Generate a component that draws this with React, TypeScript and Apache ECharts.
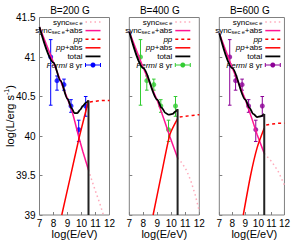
import { useEffect, useRef } from 'react';
import * as echarts from 'echarts';

const titles = ['B=200 G', 'B=400 G', 'B=600 G'];

const fermiE = [7.8, 8.25, 8.75, 9.25, 9.8, 10.3];
const fermiL = [41.0, 40.7, 40.65, 40.38, 40.08, 40.38];
const fermiLo = [40.39, 40.58, 40.58, 40.3, 39.93, 40.25];
const fermiHi = [41.22, 40.76, 40.72, 40.46, 40.2, 40.5];
const fermiColors = ['#0000ff', '#33cc33', '#8c0096'];

const syncSec200 = [[10.5, 39.57], [10.7, 39.46], [11, 39.3], [11.3, 39.15], [11.6, 38.98]];
const syncAbs200 = [[7, 41.38], [8, 40.93], [8.5, 40.7], [9, 40.47], [9.3, 40.33], [9.5, 40.2], [9.8, 39.99], [10.1, 39.8], [10.5, 39.57]];
const pp200 = [[10.6, 40.43], [11, 40.44], [11.5, 40.45], [12, 40.45]];
const ppAbs200 = [[8.59, 39], [9.2, 39.48], [9.82, 39.97], [10.5, 40.45]];
const total200 = [[7, 41.38], [8, 40.93], [8.5, 40.7], [9, 40.47], [9.3, 40.35], [9.5, 40.29], [9.7, 40.29], [9.9, 40.33], [10.1, 40.38], [10.3, 40.42], [10.5, 40.45]];
const cut200 = [[10.5, 40.45], [10.5, 39]];

const syncSec400 = [[10.45, 39.72], [10.8, 39.65], [11.1, 39.56], [11.4, 39.43], [11.7, 39.26], [12, 39.05]];
const syncAbs400 = [[7, 41.32], [8, 40.86], [9, 40.45], [9.5, 40.2], [9.9, 39.99], [10.45, 39.72]];
const pp400 = [[10.6, 40.24], [11, 40.25], [11.5, 40.26], [12, 40.27]];
const ppAbs400 = [[8.7, 39], [9.3, 39.52], [9.9, 40.02], [10.45, 40.22]];
const total400 = [[7, 41.32], [8, 40.86], [9, 40.46], [9.3, 40.36], [9.6, 40.29], [9.8, 40.27], [10.1, 40.28], [10.3, 40.31], [10.45, 40.34]];
const cut400 = [[10.45, 40.34], [10.45, 39]];

const syncSec600 = [[10.45, 39.78], [11, 39.68], [11.5, 39.56], [12, 39.38]];
const syncAbs600 = [[7, 41.3], [8, 40.86], [9, 40.46], [9.5, 40.22], [9.9, 40.02], [10.45, 39.78]];
const pp600 = [[10.6, 40.14], [11, 40.15], [11.5, 40.16], [12, 40.16]];
const ppAbs600 = [[8.84, 39], [9.4, 39.5], [9.9, 39.85], [10.45, 40.1]];
const total600 = [[7, 41.3], [8, 40.86], [9, 40.46], [9.3, 40.36], [9.6, 40.28], [9.9, 40.24], [10.2, 40.25], [10.45, 40.28]];
const cut600 = [[10.45, 40.28], [10.45, 39]];

const panels = [
  { syncSec: syncSec200, syncAbs: syncAbs200, pp: pp200, ppAbs: ppAbs200, total: total200, cut: cut200 },
  { syncSec: syncSec400, syncAbs: syncAbs400, pp: pp400, ppAbs: ppAbs400, total: total400, cut: cut400 },
  { syncSec: syncSec600, syncAbs: syncAbs600, pp: pp600, ppAbs: ppAbs600, total: total600, cut: cut600 },
];

const FONT = 'Liberation Sans';
const PINK_LIGHT = '#ffaabb';
const MAGENTA = '#ff1493';
const RED = '#ff0000';
const FRAME = '#808080';

const GRID_LEFTS = [39.5, 129.3, 219.3];
const GRID_TOP = 17.5;
const GRID_W = 70;
const GRID_H = 197.5;

export default function App() {
  const ref = useRef<HTMLDivElement>(null);
  useEffect(() => {
    if (!ref.current) return;
    const chart = echarts.init(ref.current, undefined, { renderer: 'svg' });

    const grids: any[] = [];
    const xAxes: any[] = [];
    const yAxes: any[] = [];
    const series: any[] = [];
    const graphic: any[] = [];

    panels.forEach((p, i) => {
      const L = GRID_LEFTS[i];
      grids.push({ left: L, top: GRID_TOP, width: GRID_W, height: GRID_H, show: true, borderColor: FRAME, borderWidth: 1, backgroundColor: 'transparent' });
      xAxes.push({
        type: 'value', gridIndex: i, min: 7, max: 12, interval: 1,
        axisLine: { show: false },
        axisTick: { show: true, inside: true, length: 3, lineStyle: { color: FRAME } },
        splitLine: { show: false },
        axisLabel: { fontSize: 10, color: '#000', fontFamily: FONT, margin: 3 },
      });
      yAxes.push({
        type: 'value', gridIndex: i, min: 39, max: 41.5, interval: 0.5,
        axisLine: { show: false },
        axisTick: { show: true, inside: true, length: 3, lineStyle: { color: FRAME } },
        splitLine: { show: false },
        axisLabel: { show: i === 0, fontSize: 10, color: '#000', fontFamily: FONT, margin: 4 },
      });
      const base = { xAxisIndex: i, yAxisIndex: i, showSymbol: false, symbol: 'none', silent: true };
      series.push({ ...base, type: 'line', data: p.syncSec, lineStyle: { color: PINK_LIGHT, width: 1.5, type: [1.5, 3] } });
      series.push({ ...base, type: 'line', data: p.syncAbs, lineStyle: { color: MAGENTA, width: 1.5 } });
      series.push({ ...base, type: 'line', data: p.pp, lineStyle: { color: RED, width: 1.5, type: [3, 3] } });
      series.push({ ...base, type: 'line', data: p.ppAbs, smooth: 0.2, lineStyle: { color: RED, width: 1.5 } });
      series.push({ ...base, type: 'line', data: p.total, smooth: 0.3, smoothMonotone: 'x', lineStyle: { color: '#000', width: 1.8 } });
      series.push({ ...base, type: 'line', data: p.cut, lineStyle: { color: '#222', width: 2 } });
      const col = fermiColors[i];
      series.push({
        type: 'custom', xAxisIndex: i, yAxisIndex: i, silent: true,
        data: fermiE.map((x, k) => [x, fermiLo[k], fermiHi[k]]),
        encode: { x: 0, y: [1, 2] },
        renderItem: (params: any, api: any) => {
          const lo = api.coord([api.value(0), api.value(1)]);
          const hi = api.coord([api.value(0), api.value(2)]);
          const c = 1.8;
          const st = { stroke: col, lineWidth: 1 };
          return {
            type: 'group',
            children: [
              { type: 'line', shape: { x1: lo[0], y1: lo[1], x2: hi[0], y2: hi[1] }, style: st },
              { type: 'line', shape: { x1: lo[0] - c, y1: lo[1], x2: lo[0] + c, y2: lo[1] }, style: st },
              { type: 'line', shape: { x1: hi[0] - c, y1: hi[1], x2: hi[0] + c, y2: hi[1] }, style: st },
            ],
          };
        },
      });
      series.push({
        type: 'scatter', xAxisIndex: i, yAxisIndex: i, silent: true, symbol: 'circle', symbolSize: 5,
        itemStyle: { color: col },
        data: fermiE.map((x, k) => [x, fermiL[k]]),
      });

      graphic.push({ type: 'text', x: L + GRID_W / 2 - 4.5, y: 10, style: { text: titles[i], font: `10px ${FONT}`, fill: '#000', align: 'center', verticalAlign: 'middle' } });
      graphic.push({ type: 'text', x: L + GRID_W / 2, y: 234, style: { text: 'log(E/eV)', font: `11px ${FONT}`, fill: '#000', align: 'center', verticalAlign: 'middle' } });

      const tx = L + 43;
      const sx1 = L + 46;
      const sx2 = L + 61;
      const rows = [22, 30.6, 39.2, 47.8, 56.4, 65];
      const subRich = {
        a: { fontSize: 8, fontFamily: FONT, lineHeight: 8, verticalAlign: 'top', fill: '#000' },
        b: { fontSize: 5.5, fontFamily: FONT, lineHeight: 6, padding: [4, 0, 0, 0], verticalAlign: 'bottom', fill: '#000' },
        i: { fontSize: 8, fontFamily: FONT, fontStyle: 'italic', lineHeight: 8, fill: '#000' },
        n: { fontSize: 8, fontFamily: FONT, lineHeight: 8, fill: '#000' },
      };
      const texts = [
        '{a|sync}{b|sec e}',
        '{a|sync}{b|sec e}{a|+abs}',
        '{i|pp}',
        '{i|pp}{n|+abs}',
        '{n|total}',
        '{i|Fermi}{n| 8 yr}',
      ];
      texts.forEach((t, k) => {
        graphic.push({ type: 'text', x: tx, y: rows[k], style: { text: t, rich: subRich, align: 'right', verticalAlign: 'middle' } });
      });
      const lineStyles = [
        { stroke: PINK_LIGHT, lineWidth: 1.5, lineDash: [1.5, 3] },
        { stroke: MAGENTA, lineWidth: 1.5 },
        { stroke: RED, lineWidth: 1.5, lineDash: [3, 3] },
        { stroke: RED, lineWidth: 1.5 },
        { stroke: '#000', lineWidth: 1.8 },
        { stroke: col, lineWidth: 1 },
      ];
      lineStyles.forEach((s, k) => {
        graphic.push({ type: 'line', shape: { x1: sx1, y1: rows[k], x2: sx2, y2: rows[k] }, style: s });
      });
      const fy = rows[5];
      graphic.push({ type: 'line', shape: { x1: sx1, y1: fy - 2, x2: sx1, y2: fy + 2 }, style: { stroke: col, lineWidth: 1 } });
      graphic.push({ type: 'line', shape: { x1: sx2, y1: fy - 2, x2: sx2, y2: fy + 2 }, style: { stroke: col, lineWidth: 1 } });
      graphic.push({ type: 'circle', shape: { cx: (sx1 + sx2) / 2, cy: fy, r: 2.5 }, style: { fill: col } });
    });

    graphic.push({
      type: 'text', x: 9, y: 116, rotation: Math.PI / 2,
      style: {
        text: '{a|log(L/erg s}{s|-1}{a|)}',
        rich: {
          a: { fontSize: 11, fontFamily: FONT, lineHeight: 12, verticalAlign: 'bottom', fill: '#000' },
          s: { fontSize: 7, fontFamily: FONT, lineHeight: 7, padding: [0, 0, 6, 0], verticalAlign: 'top', fill: '#000' },
        },
        align: 'center', verticalAlign: 'middle',
      },
    });

    chart.setOption({
      animation: false,
      backgroundColor: '#fff',
      grid: grids,
      xAxis: xAxes,
      yAxis: yAxes,
      series,
      graphic,
    });
    return () => chart.dispose();
  }, []);
  return <div ref={ref} style={{ position: 'fixed', left: 0, top: 0, width: 293, height: 242 }} />;
}
